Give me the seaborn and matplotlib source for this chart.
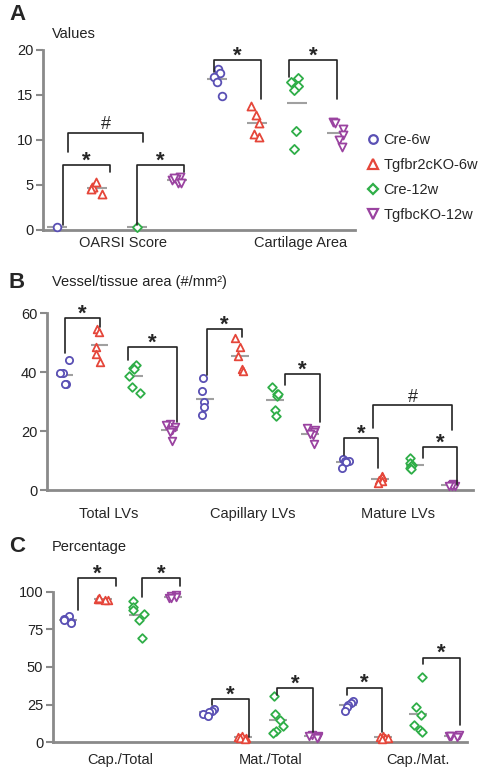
import numpy as np
import pandas as pd
import matplotlib
matplotlib.use("Agg")
import matplotlib.pyplot as plt
import seaborn as sns
from matplotlib.lines import Line2D

# groups shared by all panels
groups = ["Cre-6w", "Tgfbr2cKO-6w", "Cre-12w", "TgfbcKO-12w"]
colors = ["#5a50b4", "#e5463a", "#2fae48", "#9a43a0"]
markers = ["o", "^", "D", "v"]
msize_scale = [1.0, 1.05, 0.85, 1.05]

# panel A: values
a_cats = ["OARSI Score", "Cartilage Area"]
a_oarsi = [[0.3], [4.0, 4.8, 4.8, 4.5, 5.3], [0.3], [5.9, 5.7, 5.5, 5.2, 5.2, 5.8]]
a_cart = [[17.9, 17.4, 17.0, 16.4, 14.9], [13.8, 12.8, 11.9, 10.7, 10.3],
          [16.9, 16.4, 16.0, 15.5, 11.0, 9.0], [12.0, 11.9, 11.2, 10.6, 10.0, 9.2]]

# panel B: vessel/tissue area
b_cats = ["Total LVs", "Capillary LVs", "Mature LVs"]
b_total = [[44, 39.8, 39.8, 35.8, 35.8], [54.5, 53.5, 48.5, 46, 43.5],
           [42.5, 41.5, 41.0, 38.5, 35.0, 33.0], [22.5, 22.0, 21.5, 20.5, 19.5, 16.5]]
b_cap = [[38, 33.5, 30, 28, 25.5], [51.5, 48.5, 45.5, 41, 40.5],
         [35, 32.5, 32, 32.5, 27, 25], [21, 20.5, 19.5, 18.5, 19, 15.5]]
b_mat = [[10.5, 10, 10, 9.5, 7.5], [4.8, 4.5, 3.5, 3.0, 2.5],
         [11, 9, 8.5, 8, 7.5, 7], [2, 1.8, 1.5, 1.5, 1.2]]

# panel C: percentage
c_cats = ["Cap./Total", "Mat./Total", "Cap./Mat."]
c_captot = [[84, 82, 81, 80, 79], [95, 95, 94.5, 94.5, 95.5],
            [93.5, 90, 88, 85, 81, 69.5], [97.5, 97, 96.5, 96, 95.5]]
c_mattot = [[22, 21, 20, 19, 17.5], [4, 3.5, 3, 3, 2.5],
            [31, 19, 14.5, 11, 7.5, 6], [5, 4.5, 4, 3.5, 3]]
c_capmat = [[27.5, 26, 25, 23.5, 21], [4, 3.5, 3, 3, 2.5],
            [43.5, 23.5, 18, 11.5, 8, 6.5], [5, 4.5, 4, 4, 3.5]]

# significance brackets: (x1, x2, top, left end, right end, label)
a_sig = [(0.15, 1.33, 7.2, 0.5, 6.4, "*"), (2.0, 3.18, 7.2, 0.5, 6.4, "*"),
         (0.28, 2.15, 10.8, 8.7, 9.8, "#"),
         (3.93, 5.1, 18.9, 17.6, 14.6, "*"), (5.8, 7.0, 18.9, 17.0, 14.6, "*")]
b_sig = [(0.0, 1.0, 58.3, 46.4, 55.3, "*"), (1.8, 3.2, 48.5, 44, 23, "*"),
         (4.06, 5.06, 54.5, 39, 52, "*"), (6.29, 7.29, 39.3, 35.6, 23, "*"),
         (7.97, 8.94, 17.6, 11.9, 7.5, "*"), (8.8, 11.06, 28.8, 21, 20.3, "#"),
         (10.23, 11.2, 14.6, 10.8, 1.7, "*")]
c_sig = [(0.29, 1.37, 108.8, 87.8, 103.8, "*"), (2.11, 3.2, 108.8, 96.7, 103.8, "*"),
         (4.11, 5.17, 28.5, 24.8, 3.8, "*"), (5.97, 7.0, 35.8, 31.4, 7.1, "*"),
         (7.97, 8.97, 36.2, 31.4, 7.0, "*"), (10.14, 11.2, 56.2, 52, 11.5, "*")]

sns.set_style("ticks")
plt.rcParams["font.family"] = ["Liberation Sans", "DejaVu Sans"]
np.random.seed(3)

fig = plt.figure(figsize=(5, 7.7), dpi=100)


def draw_panel(ax, cats, values, yticks, xlim, sig, msize, label_shift):
    rows = []
    for ci, cat in enumerate(cats):
        for gi, g in enumerate(groups):
            for v in values[ci][gi]:
                rows.append({"pos": ci * 4 + gi, "group": g, "value": v})
    df = pd.DataFrame(rows)
    order = list(range(len(cats) * 4))
    for gi, g in enumerate(groups):
        sub = df[df["group"] == g]
        n = len(ax.collections)
        sns.stripplot(data=sub, x="pos", y="value", order=order, ax=ax,
                      color=colors[gi], marker=markers[gi], size=msize * msize_scale[gi],
                      jitter=0.17)
        for coll in ax.collections[n:]:
            coll.set_facecolor("white")
            coll.set_edgecolor(colors[gi])
            coll.set_linewidth(1.3)
            coll.set_clip_on(False)
    # mean lines
    means = df.groupby("pos")["value"].mean()
    ax.hlines(means.values, means.index - 0.25, means.index + 0.25,
              color="#a0a0a0", lw=1.5, zorder=2)
    # brackets
    for x1, x2, top, y1, y2, lab in sig:
        ax.plot([x1, x1, x2, x2], [y1, top, top, y2], color="#222222", lw=1.2,
                clip_on=False, zorder=4)
        if lab == "*":
            ax.annotate(lab, ((x1 + x2) / 2, top), xytext=(0, -1), textcoords="offset points",
                        ha="center", va="baseline", fontsize=16, fontweight="bold",
                        annotation_clip=False)
        else:
            ax.annotate(lab, ((x1 + x2) / 2, top), xytext=(0, 2.5), textcoords="offset points",
                        ha="center", va="baseline", fontsize=13, annotation_clip=False)
    ax.set_xlim(*xlim)
    ax.set_ylim(yticks[0], yticks[-1])
    ax.set_yticks(yticks)
    ax.set_xticks([ci * 4 + 1.5 + label_shift[ci] for ci in range(len(cats))])
    ax.set_xticklabels(cats)
    ax.set_xlabel("")
    ax.set_ylabel("")
    sns.despine(ax=ax)
    for s in ["left", "bottom"]:
        ax.spines[s].set_color("#8a8a8a")
        ax.spines[s].set_linewidth(2)
    ax.tick_params(axis="y", length=5, width=1.5, color="#8a8a8a", labelsize=10.5,
                   labelcolor="#222222", pad=2)
    ax.tick_params(axis="x", length=0, labelsize=10.5)
    ax.patch.set_alpha(0)


axA = fig.add_axes([0.086, 0.7013, 0.624, 0.2338])
draw_panel(axA, a_cats, [a_oarsi, a_cart], [0, 5, 10, 15, 20], (-0.35, 7.45), a_sig, 5.5,
           [0.15, 0.6])
axA.tick_params(axis="x", pad=4)

axB = fig.add_axes([0.094, 0.3636, 0.852, 0.2299])
draw_panel(axB, b_cats, [b_total, b_cap, b_mat], [0, 20, 40, 60], (-0.5, 11.65), b_sig, 5.2,
           [-0.23, -0.14, 0.0])
axB.tick_params(axis="x", pad=12)

axC = fig.add_axes([0.106, 0.036, 0.828, 0.1956])
draw_panel(axC, c_cats, [c_captot, c_mattot, c_capmat], [0, 25, 50, 75, 100], (-0.43, 11.4),
           c_sig, 5.2, [0.0, 0.3, 0.5])
axC.tick_params(axis="x", pad=8)

# panel letters and titles
for letter, title, ypx in [("A", "Values", 34), ("B", "Vessel/tissue area (#/mm²)", 282),
                           ("C", "Percentage", 547)]:
    fig.text(0.018, 1 - (ypx - 19 if letter == "A" else ypx) / 770, letter, fontsize=16,
             fontweight="bold", va="center", ha="left")
    fig.text(0.104, 1 - ypx / 770, title, fontsize=10.5, va="center", ha="left", color="#222222")

# legend
handles = [Line2D([], [], linestyle="none", marker=m, markersize=6.2 * k, markerfacecolor="white",
                  markeredgecolor=c, markeredgewidth=1.6)
           for m, c, k in zip(markers, colors, msize_scale)]
fig.legend(handles, groups, loc="upper left", bbox_to_anchor=(0.735, 1 - 133 / 770),
           frameon=False, fontsize=10.5, handlelength=0.8, handletextpad=0.3,
           labelspacing=0.75, borderaxespad=0, borderpad=0)

fig.savefig("out.png", dpi=100)
